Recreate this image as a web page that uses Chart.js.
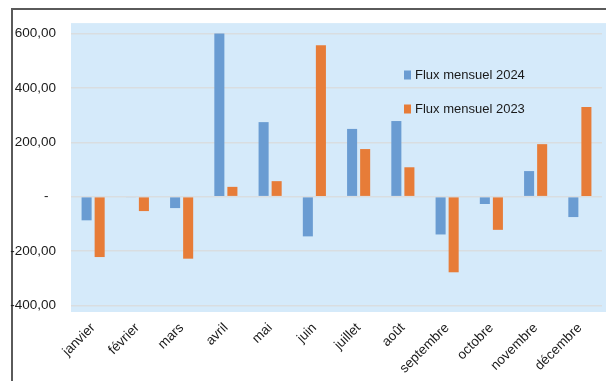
<!DOCTYPE html>
<html>
<head>
<meta charset="utf-8">
<script src="https://cdn.jsdelivr.net/npm/chart.js@4"></script>
<style>
  html, body { margin: 0; padding: 0; background: #fff; }
  #wrap { width: 606px; height: 381px; }
</style>
</head>
<body>
<div id="wrap"><canvas id="chart" width="606" height="381"></canvas></div>
<script>
  // Data
  const months = ["janvier", "février", "mars", "avril", "mai", "juin", "juillet", "août", "septembre", "octobre", "novembre", "décembre"];
  const flux2024 = [-87, -3, -42, 600, 274, -146, 249, 278, -139, -27, 94, -75];
  const flux2023 = [-222, -53, -228, 36, 57, 557, 175, 108, -278, -122, 193, 330];
  const yTicks = [-400, -200, 0, 200, 400, 600];

  const FONT = "'Liberation Sans', Arial, sans-serif";

  // white background, frame and light blue plot area
  const backgroundPlugin = {
    id: "background",
    beforeDraw(chart) {
      const ctx = chart.ctx;
      const a = chart.chartArea;
      ctx.save();
      ctx.fillStyle = "#ffffff";
      ctx.fillRect(0, 0, chart.width, chart.height);
      ctx.strokeStyle = "#5a5a5a";
      ctx.lineWidth = 2;
      ctx.strokeRect(12, 9, chart.width + 20, chart.height + 20);
      ctx.fillStyle = "#d5eafa";
      ctx.fillRect(a.left, a.top, chart.width - a.left, a.bottom - a.top);
      ctx.restore();
    }
  };

  // legend drawn inside the plot area
  const insideLegend = {
    id: "insideLegend",
    afterDraw(chart) {
      const ctx = chart.ctx;
      ctx.save();
      ctx.font = "13px " + FONT;
      ctx.textBaseline = "middle";
      chart.data.datasets.forEach((ds, i) => {
        const y = 75 + i * 34;
        ctx.fillStyle = ds.backgroundColor;
        ctx.fillRect(404, y - 4.5, 7, 9);
        ctx.fillStyle = "#1a1a1a";
        ctx.fillText(ds.label, 415, y);
      });
      ctx.restore();
    }
  };

  new Chart(document.getElementById("chart"), {
    type: "bar",
    data: {
      labels: months,
      datasets: [
        {
          label: "Flux mensuel 2024",
          data: flux2024,
          backgroundColor: "#6a9cd2",
          categoryPercentage: 0.59,
          barPercentage: 0.77,
        },
        {
          label: "Flux mensuel 2023",
          data: flux2023,
          backgroundColor: "#e77c38",
          categoryPercentage: 0.59,
          barPercentage: 0.77,
        },
      ],
    },
    options: {
      responsive: false,
      animation: false,
      layout: { padding: { top: 21, right: 4, left: 0, bottom: 0 } },
      plugins: {
        legend: { display: false },
        tooltip: { enabled: false },
      },
      scales: {
        x: {
          grid: { display: false, drawTicks: false },
          border: { display: false },
          ticks: {
            minRotation: 45,
            maxRotation: 45,
            padding: 8,
            color: "#1a1a1a",
            font: { family: FONT, size: 13.5 },
          },
          afterFit(s) { s.height = 69; },
        },
        y: {
          min: -424,
          max: 638,
          afterBuildTicks(s) { s.ticks = yTicks.map(v => ({ value: v })); },
          grid: { color: "#d9dde0", lineWidth: 1.5, drawTicks: false },
          border: { display: false },
          ticks: {
            padding: 15,
            color: "#1a1a1a",
            font: { family: FONT, size: 13.5 },
            callback: v => v === 0 ? "-  " : v.toFixed(2).replace(".", ","),
          },
          afterFit(s) { s.width = 71; },
        },
      },
    },
    plugins: [backgroundPlugin, insideLegend],
  });
</script>
</body>
</html>
